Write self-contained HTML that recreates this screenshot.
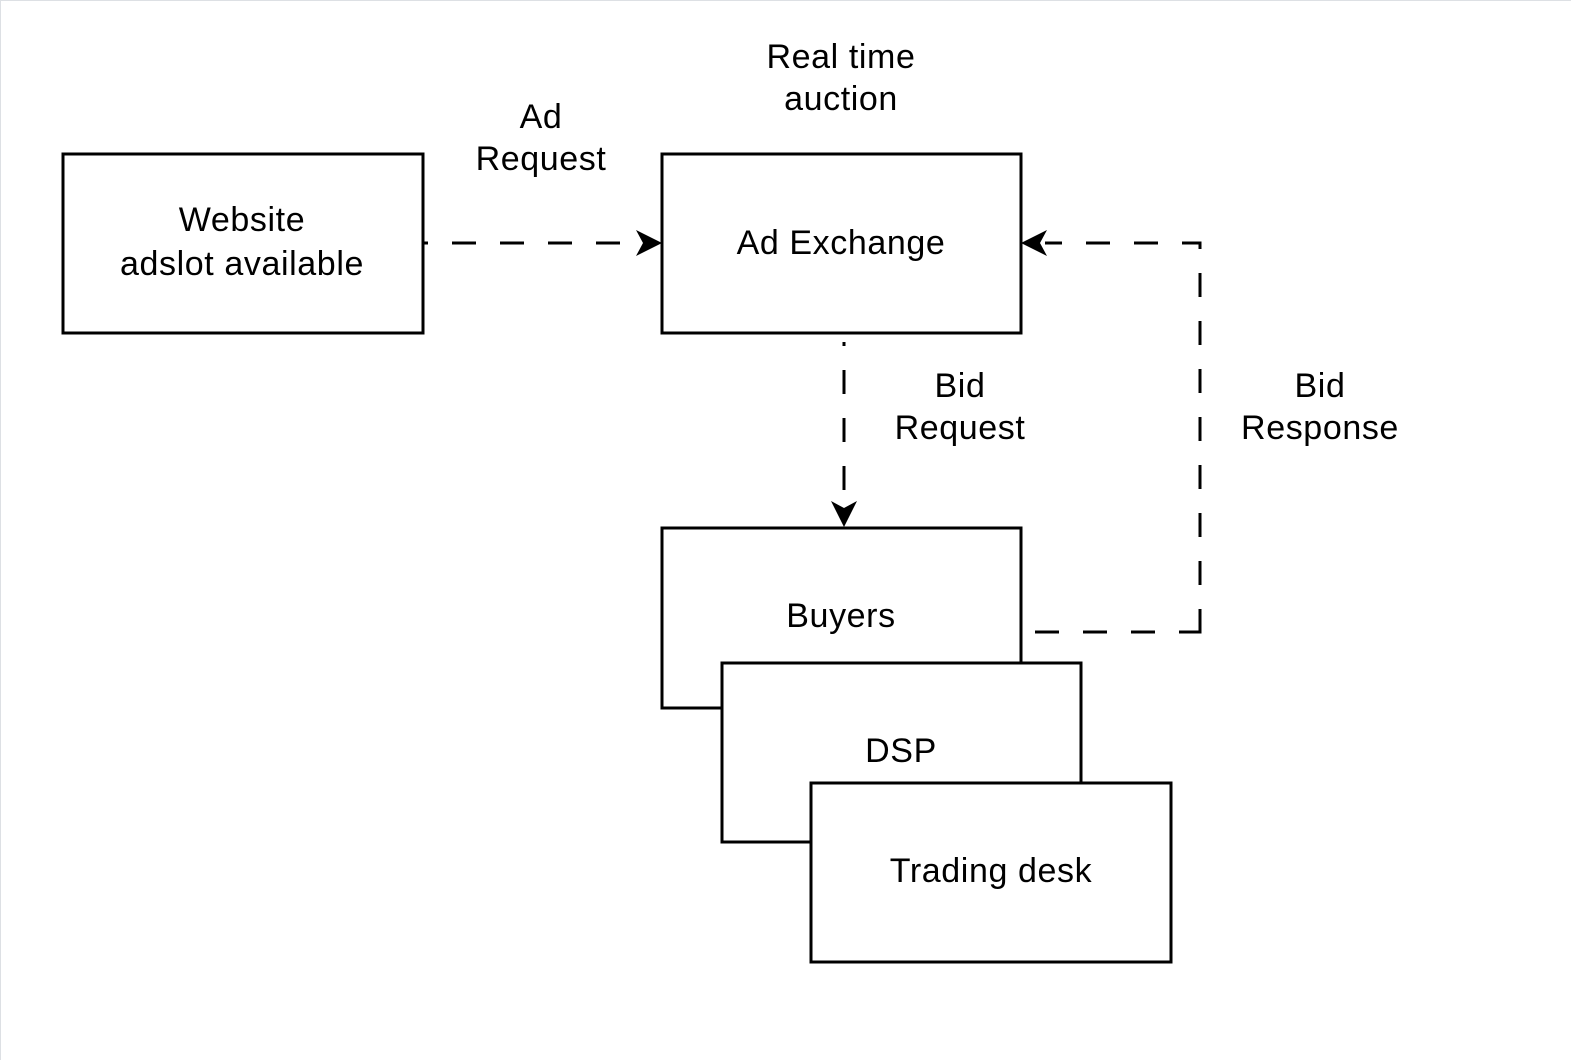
<!DOCTYPE html>
<html><head><style>
html,body{margin:0;padding:0;background:#fff;}
svg{display:block;}
text{font-family:"Liberation Sans",Arial,Helvetica,sans-serif;font-size:34px;letter-spacing:0.6px;fill:#000;}
</style></head><body>
<svg width="1571" height="1060" viewBox="0 0 1571 1060" xmlns="http://www.w3.org/2000/svg">
<rect x="0.5" y="0.5" width="1580" height="1070" fill="#fff" stroke="#dde0e4" stroke-width="1"/>
<g fill="#fff" stroke="#000" stroke-width="3">
<rect x="63" y="154" width="360" height="179"/>
<rect x="662" y="154" width="359" height="179"/>
<rect x="662" y="528" width="359" height="180"/>
<rect x="722" y="663" width="359" height="179"/>
<rect x="811" y="783" width="360" height="179"/>
</g>
<g fill="none" stroke="#000" stroke-width="3">
<path d="M424 243 H428 M452 243 H476 M500 243 H524 M548 243 H572 M596 243 H620"/>
<path d="M844 342 V346 M844 370 V394 M844 418 V442 M844 466 V490"/>
<path d="M1035 632 H1059 M1083 632 H1107 M1131 632 H1155 M1179 632 H1200 V609 M1200 585 V561 M1200 537 V513 M1200 489 V465 M1200 441 V417 M1200 393 V369 M1200 345 V321 M1200 297 V273 M1200 249 V243 H1182 M1158 243 H1134 M1110 243 H1086 M1062 243 H1045"/>
</g>
<path d="M662 243 L636 230 L643 243 L636 256 Z" fill="#000"/>
<path d="M844 527 L831 501 L844 508 L857 501 Z" fill="#000"/>
<path d="M1021 243 L1047 230 L1040 243 L1047 256 Z" fill="#000"/>
<g text-anchor="middle">
<text x="242" y="231">Website</text>
<text x="242" y="275">adslot available</text>
<text x="841" y="254">Ad Exchange</text>
<text x="841" y="627">Buyers</text>
<text x="901" y="762">DSP</text>
<text x="991" y="882">Trading desk</text>
<text x="541" y="128">Ad</text>
<text x="541" y="170">Request</text>
<text x="841" y="68">Real time</text>
<text x="841" y="110">auction</text>
<text x="960" y="397">Bid</text>
<text x="960" y="439">Request</text>
<text x="1320" y="397">Bid</text>
<text x="1320" y="439">Response</text>
</g>
</svg>
</body></html>
